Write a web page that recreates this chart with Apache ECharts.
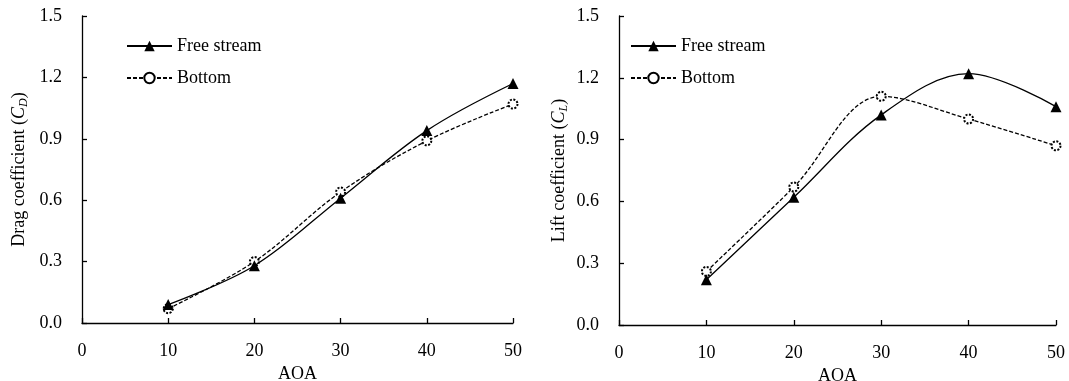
<!DOCTYPE html>
<html>
<head>
<meta charset="utf-8">
<script src="https://cdn.jsdelivr.net/npm/echarts@6/dist/echarts.min.js"></script>
<style>
html,body{margin:0;padding:0;background:#fff;}
#c{width:1069px;height:381px;}
</style>
</head>
<body>
<div id="c"></div>
<script>
var aoa = [10, 20, 30, 40, 50];
var dragFree = [0.09, 0.28, 0.61, 0.94, 1.17];
var dragBottom = [0.07, 0.30, 0.64, 0.89, 1.07];
var liftFree = [0.22, 0.62, 1.02, 1.22, 1.06];
var liftBottom = [0.26, 0.67, 1.11, 1.00, 0.87];
var seriesNames = ['Free stream', 'Bottom'];
var xTicks = [0, 10, 20, 30, 40, 50];
var yTicks = [0.0, 0.3, 0.6, 0.9, 1.2, 1.5];

function pairs(xs, ys) { return xs.map(function (x, i) { return [x, ys[i]]; }); }

var FONT = '"Liberation Serif", "Times New Roman", serif';
var chart = echarts.init(document.getElementById('c'), null, {renderer: 'canvas'});

function xAxis(gi) {
  return {
    type: 'value', gridIndex: gi, min: xTicks[0], max: xTicks[xTicks.length - 1], interval: 10,
    name: 'AOA', nameLocation: 'middle', nameGap: 41,
    nameTextStyle: {fontFamily: FONT, fontSize: 18, color: '#000'},
    axisLine: {show: true, lineStyle: {color: '#000', width: 1.3}},
    axisTick: {show: true, inside: true, length: 5, lineStyle: {color: '#000', width: 1.3}},
    axisLabel: {fontFamily: FONT, fontSize: 18, color: '#000', margin: 19},
    splitLine: {show: false}
  };
}
function yAxis(gi, word, sub, gap) {
  return {
    type: 'value', gridIndex: gi, min: yTicks[0], max: yTicks[yTicks.length - 1], interval: 0.3,
    name: '{n|' + word + ' coefficient (}{i|C}{s|' + sub + '}{n|)}',
    nameLocation: 'middle', nameGap: gap, nameRotate: 90,
    nameTextStyle: {
      fontFamily: FONT, fontSize: 18, color: '#000',
      rich: {
        n: {fontFamily: FONT, fontSize: 18, color: '#000', lineHeight: 22},
        i: {fontFamily: FONT, fontSize: 18, fontStyle: 'italic', color: '#000', lineHeight: 22},
        s: {fontFamily: FONT, fontSize: 12, fontStyle: 'italic', color: '#000', verticalAlign: 'bottom', lineHeight: 22, padding: [6, 0, 0, 0]}
      }
    },
    axisLine: {show: true, lineStyle: {color: '#000', width: 1.3}},
    axisTick: {show: true, inside: true, length: 5, lineStyle: {color: '#000', width: 1.3}},
    axisLabel: {fontFamily: FONT, fontSize: 18, color: '#000', margin: 20,
      formatter: function (v) { return v.toFixed(1); }},
    splitLine: {show: false}
  };
}
function lineSeries(name, data, gi, dashed) {
  return {
    name: name, type: 'line', xAxisIndex: gi, yAxisIndex: gi, data: data,
    smooth: 0.35,
    symbol: dashed ? 'emptyCircle' : 'triangle',
    symbolSize: dashed ? 9 : 11,
    z: dashed ? 2 : 3,
    lineStyle: {color: '#000', width: 1.3, type: dashed ? [4, 2] : 'solid'},
    itemStyle: dashed ? {color: '#000', borderColor: '#000', borderWidth: 0.9, borderType: [2, 1.5]} : {color: '#000'},
    emphasis: {disabled: true},
    animation: false
  };
}
function legend(gi, left) {
  return {
    data: seriesNames.map(function (n) { return {name: n}; }),
    left: left, top: 32, orient: 'vertical', itemGap: 14,
    itemWidth: 45, itemHeight: 13,
    textStyle: {fontFamily: FONT, fontSize: 18, color: '#000'},
    selectedMode: false
  };
}

chart.setOption({
  backgroundColor: '#fff',
  animation: false,
  grid: [
    {left: 82, right: 556, top: 16, bottom: 58, outerBoundsMode: 'none', containLabel: false},
    {left: 619, right: 13, top: 16, bottom: 56, outerBoundsMode: 'none', containLabel: false}
  ],
  xAxis: [xAxis(0), xAxis(1)],
  yAxis: [yAxis(0, 'Drag', 'D', 52), yAxis(1, 'Lift', 'L', 49)],
  legend: [legend(0, 121), legend(1, 625)],
  series: [
    lineSeries(seriesNames[0], pairs(aoa, dragFree), 0, false),
    lineSeries(seriesNames[1], pairs(aoa, dragBottom), 0, true),
    lineSeries(seriesNames[0], pairs(aoa, liftFree), 1, false),
    lineSeries(seriesNames[1], pairs(aoa, liftBottom), 1, true)
  ]
});
</script>
</body>
</html>
